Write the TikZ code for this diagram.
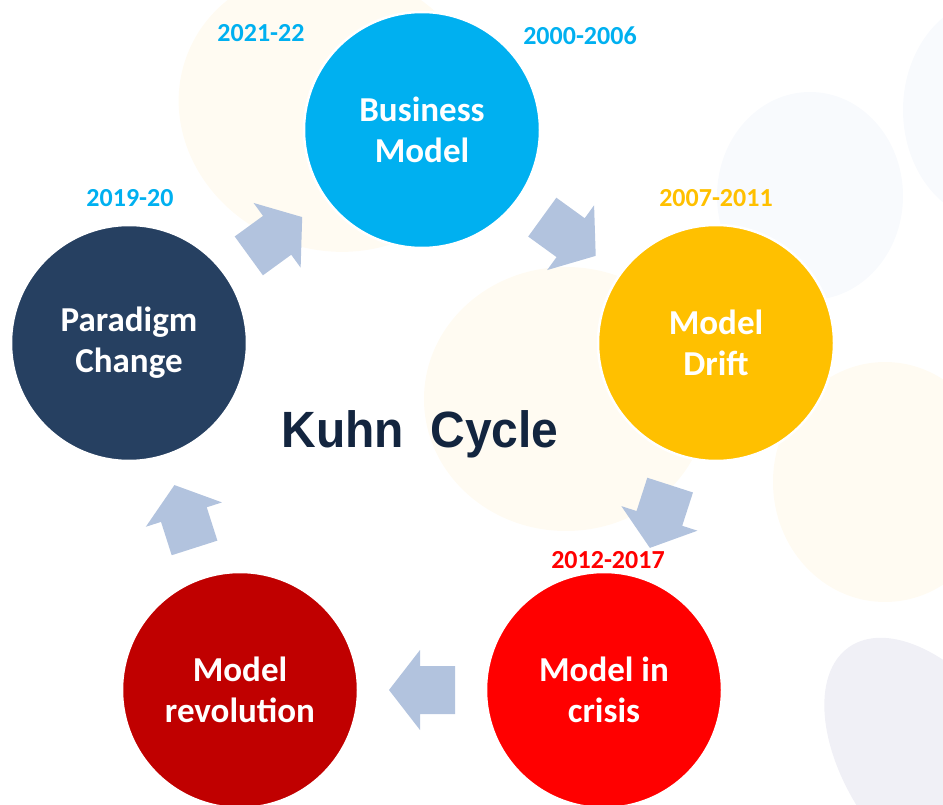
\documentclass[tikz,border=0pt]{standalone}
\usepackage{fontspec}
\setmainfont{Carlito}
\newfontfamily\titlefont{Liberation Sans}
\usetikzlibrary{calc}

\definecolor{bmblue}{HTML}{00B0F0}
\definecolor{driftyellow}{HTML}{FFC000}
\definecolor{crisisred}{HTML}{FF0000}
\definecolor{revred}{HTML}{C00000}
\definecolor{paranavy}{HTML}{264061}
\definecolor{arrowblue}{RGB}{178,195,222}
\definecolor{titlenavy}{HTML}{13253F}
\definecolor{bgcream}{RGB}{255,251,242}
\definecolor{bgblue}{RGB}{248,250,253}
\definecolor{bggray}{RGB}{240,240,246}

\newcommand\cyclearrow[2]{%
  \path let \p1=($(#2)-(#1)$), \n1={atan2(\y1,\x1)} in
    ($(#1)!0.5!(#2)$) pic[rotate=\n1] {blockarrow};}

\begin{document}
\begin{tikzpicture}[
    x = 1pt, y = -1pt,
    phase/.style = {circle, minimum size=236pt, inner sep=0pt,
      draw=white, line width=2.5pt, text=white, align=center,
      font=\fontsize{35}{41}\selectfont\bfseries},
    years/.style = {anchor=base, font=\fontsize{26}{30}\selectfont\bfseries},
    blockarrow/.pic = {\fill[arrowblue] (33,0) -- (2,40) -- (2,24) --
      (-33,24) -- (-33,-24) -- (2,-24) -- (2,-40) -- cycle;}]

\useasboundingbox (0,0) rectangle (943,805);

% faint blobs behind
\begin{scope}
\clip (0,0) rectangle (943,805);
\fill[bgcream, rotate around={-20:(332,110)}] (332,110) ellipse [x radius=155, y radius=140];
\fill[bgcream] (566,399) ellipse [x radius=142, y radius=132];
\fill[bgblue] (810,196) ellipse [x radius=93, y radius=104];
\fill[bgblue] (995,110) ellipse [x radius=92, y radius=112];
\fill[bgcream] (885,482) ellipse [x radius=112, y radius=120];
\fill[bggray, rotate around={-55:(935,770)}] (935,770) ellipse [x radius=150, y radius=85];
\end{scope}

\node[phase, fill=bmblue] (bm) at (422,130) {Business\\Model};
\node[phase, fill=driftyellow] (md) at (716,343) {Model\\Drift};
\node[phase, fill=crisisred] (mc) at (604,690) {Model in\\crisis};
\node[phase, fill=revred] (mr) at (240,690) {Model\\revolution};
\node[phase, fill=paranavy] (pc) at (129,343) {Paradigm\\Change};

\cyclearrow{pc}{bm}
\cyclearrow{bm}{md}
\cyclearrow{md}{mc}
\cyclearrow{mc}{mr}
\cyclearrow{mr}{pc}

\node[years, text=bmblue] (yrnew) at (261,42) {2021-22};
\node[years, text=bmblue] (yrbm) at (580,45) {2000-2006};
\node[years, text=bmblue] (yrpc) at (130,207) {2019-20};
\node[years, text=driftyellow] (yrmd) at (716,207) {2007-2011};
\node[years, text=crisisred] (yrmc) at (608,568) {2012-2017};

\node[anchor=base, text=titlenavy, xscale=0.94,
  font=\titlefont\fontsize{51}{60}\selectfont\bfseries] (title) at (420,447) {Kuhn\ \ Cycle};
\end{tikzpicture}
\end{document}
